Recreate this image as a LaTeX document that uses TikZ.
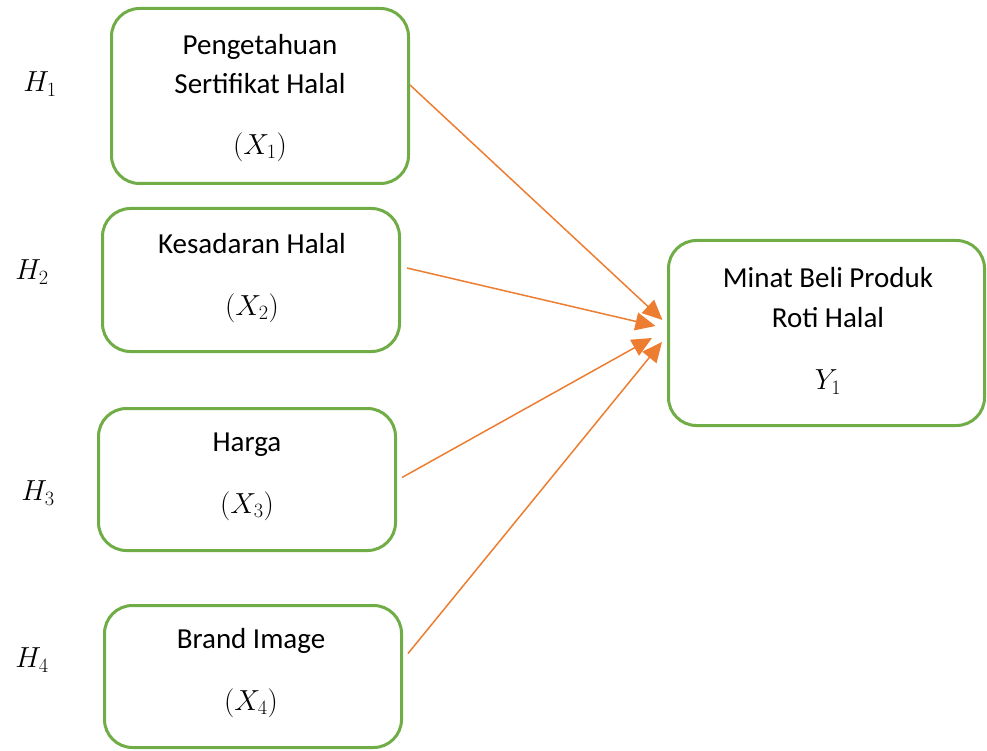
\RequirePackage{fix-cm}
\documentclass[tikz,border=0pt]{standalone}
\usepackage{fontspec}
\setmainfont{Carlito}
\usetikzlibrary{arrows.meta,positioning}
\definecolor{boxgreen}{HTML}{70AD47}
\definecolor{arroworange}{HTML}{ED7D31}

\begin{document}
\begin{tikzpicture}
 [x=1pt,y=-1pt,
  box/.style={draw=boxgreen,line width=3pt,rounded corners=28pt,inner sep=0pt},
  lbl/.style={font=\fontsize{29}{34}\selectfont,inner sep=0pt},
  pijl/.style={draw=arroworange,line width=1.5pt,-{Triangle[length=20pt,width=18pt]}}]
 \useasboundingbox (0,0) rectangle (987,751);
 % boxes
 \node[box,minimum width=297pt,minimum height=175pt] (x1) at (260,96) {};
 \node[box,minimum width=297pt,minimum height=143pt] (x2) at (251,280) {};
 \node[box,minimum width=297pt,minimum height=142pt] (x3) at (247,479.5) {};
 \node[box,minimum width=297pt,minimum height=142pt] (x4) at (253,676.5) {};
 \node[box,minimum width=316pt,minimum height=185pt] (y) at (826.5,333) {};
 % texts
 \node[lbl] (t1a) at (260,47) {Pengetahuan};
 \node[lbl] (t1b) at (260,84) {Sertifikat Halal};
 \node[lbl] (t1c) at (260,147) {$(X_1)$};
 \node[lbl] (t2a) at (252,244) {Kesadaran Halal};
 \node[lbl] (t2b) at (252,308) {$(X_2)$};
 \node[lbl] (t3a) at (247,445) {Harga};
 \node[lbl] (t3b) at (247,506) {$(X_3)$};
 \node[lbl] (t4a) at (251,641) {Brand Image};
 \node[lbl] (t4b) at (251,703) {$(X_4)$};
 \node[lbl] (ya) at (828,278) {Minat Beli Produk};
 \node[lbl] (yb) at (828,318) {Roti Halal};
 \node[lbl] (yc) at (828,382) {$Y_1$};
 \node[lbl] (h1) at (40,84) {$H_1$};
 \node[lbl] (h2) at (32,272) {$H_2$};
 \node[lbl] (h3) at (38,493) {$H_3$};
 \node[lbl] (h4) at (32,660) {$H_4$};
 % arrows
 \draw[pijl] ([yshift=11pt]x1.east) -- ([xshift=-4.5pt,yshift=13pt]y.west);
 \draw[pijl] ([xshift=6pt,yshift=12pt]x2.east) -- ([xshift=-11.5pt,yshift=7pt]y.west);
 \draw[pijl] ([xshift=5pt,yshift=2pt]x3.east) -- ([xshift=-15pt,yshift=-5pt]y.west);
 \draw[pijl] ([xshift=5pt,yshift=23pt]x4.east) -- ([xshift=-5pt,yshift=-9pt]y.west);
\end{tikzpicture}
\end{document}
